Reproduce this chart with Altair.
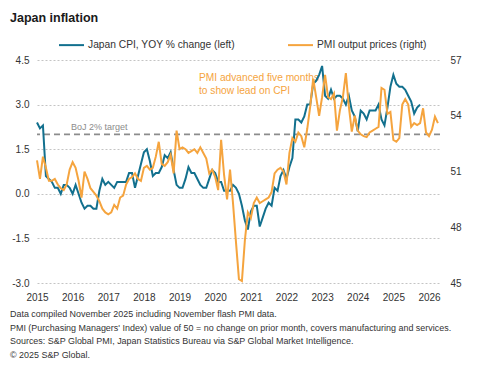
import altair as alt
import pandas as pd

FONT = "Liberation Sans"
BLUE = "#12708e"
ORANGE = "#f5a43e"
CPI_NAME = "Japan CPI, YOY % change (left)"
PMI_NAME = "PMI output prices (right)"

# Japan CPI, YoY %, monthly from Jan 2015 to Oct 2025
cpi_start = "2015-01"
cpi_values = [
    2.4, 2.2, 2.3, 0.6, 0.5, 0.4, 0.2, 0.2, 0.0, 0.3, 0.3, 0.2,
    0.0, 0.3, 0.0, -0.3, -0.5, -0.4, -0.4, -0.5, -0.5, 0.1, 0.5, 0.3,
    0.4, 0.3, 0.2, 0.4, 0.4, 0.4, 0.4, 0.7, 0.7, 0.2, 0.6, 1.0,
    1.4, 1.5, 1.1, 0.6, 0.7, 0.7, 0.9, 1.3, 1.2, 1.4, 0.8, 0.3,
    0.2, 0.2, 0.5, 0.9, 0.7, 0.7, 0.5, 0.3, 0.2, 0.2, 0.5, 0.8,
    0.7, 0.4, 0.4, 0.1, 0.1, 0.1, 0.3, 0.2, 0.0, -0.4, -0.9, -1.2,
    -0.6, -0.4, -0.4, -1.1, -0.8, -0.5, -0.3, -0.4, 0.2, 0.1, 0.6, 0.8,
    0.5, 0.9, 1.2, 2.5, 2.5, 2.4, 2.6, 3.0, 3.0, 3.7, 3.8, 4.0,
    4.3, 3.3, 3.2, 3.5, 3.2, 3.3, 3.3, 3.2, 3.0, 3.3, 2.8, 2.6,
    2.1, 2.8, 2.7, 2.5, 2.8, 2.8, 2.8, 3.0, 2.5, 2.3, 2.9, 3.6,
    4.0, 3.7, 3.6, 3.6, 3.5, 3.3, 3.1, 2.7, 2.9, 3.0,
]

# PMI output prices index, monthly from Aug 2014 to Nov 2025 (plotted 5 months ahead)
pmi_start = "2014-08"
pmi_lead_months = 5
pmi_values = [
    51.6, 50.6, 51.8, 51.2, 50.5, 50.5, 50.6, 50.3, 50.1, 50.0, 50.3, 51.1,
    51.5, 51.2, 50.5, 49.6, 51.0, 50.6, 50.1, 49.9, 49.7, 49.4, 49.0, 48.8,
    48.7, 48.8, 49.2, 49.0, 49.6, 49.7, 50.3, 50.6, 50.7, 50.9, 50.6, 50.5,
    51.2, 51.3, 51.1, 51.2, 51.8, 52.6, 51.4, 51.3, 51.5, 51.9, 50.9, 53.2,
    52.2, 52.3, 52.2, 52.0, 52.1, 52.2, 52.0, 52.3, 52.0, 51.7, 50.9, 51.1,
    50.7, 50.0, 52.7, 50.8, 49.5, 51.1, 49.3, 47.2, 45.2, 45.1, 47.3, 48.8,
    48.5, 49.3, 49.6, 49.3, 49.4, 49.5, 49.6, 49.9, 50.9, 51.1, 51.2, 51.0,
    50.3, 52.0, 52.8, 52.6, 53.1, 52.9, 52.3, 53.3, 54.5, 56.0, 55.0, 54.0,
    55.0, 56.2, 55.0, 54.9, 55.2, 53.2, 54.3, 55.0, 56.3, 54.5, 53.15, 54.0,
    53.2, 53.0, 52.9, 52.85, 53.1, 53.2, 53.3, 53.4, 55.5, 55.4, 54.1, 54.2,
    52.7, 52.6, 52.8, 54.6, 54.9, 54.6, 53.4, 53.6, 53.5, 53.6, 54.4, 53.1,
    52.9, 53.25, 53.95, 53.6,
]

year_labels = [str(y) for y in range(2015, 2027)]
cpi_ticks = [-3.0, -1.5, 0.0, 1.5, 3.0, 4.5]
pmi_ticks = [45, 48, 51, 54, 57]
boj_target = 2.0

footer_lines = [
    "Data compiled November 2025 including November flash PMI data.",
    "PMI (Purchasing Managers' Index) value of 50 = no change on prior month, covers manufacturing and services.",
    "Sources: S&P Global PMI, Japan Statistics Bureau via S&P Global Market Intelligence.",
    "\u00a9 2025 S&P Global.",
]


def month_index(start, n, shift=0):
    y, m = map(int, start.split("-"))
    base = (y - 2015) * 12 + (m - 1) + shift
    return [base + k for k in range(n)]


cpi_df = pd.DataFrame({
    "month": month_index(cpi_start, len(cpi_values)),
    "value": cpi_values,
    "series": CPI_NAME,
})
pmi_df = pd.DataFrame({
    "month": month_index(pmi_start, len(pmi_values), pmi_lead_months),
    "value": pmi_values,
    "series": PMI_NAME,
})

W, H = 403, 223
PAD_L, PAD_T = 37, 60

x_enc = alt.X(
    "month:Q",
    scale=alt.Scale(domain=[0, 135.7], nice=False, zero=False),
    axis=alt.Axis(
        values=[12 * k for k in range(len(year_labels))],
        labelExpr="'' + (2015 + datum.value / 12)",
        title=None, grid=False, domain=False, ticks=False, labelFlush=False,
        labelFont=FONT, labelFontSize=10, labelColor="#333333", labelPadding=9,
    ),
)

color_enc = alt.Color(
    "series:N",
    scale=alt.Scale(domain=[CPI_NAME, PMI_NAME], range=[BLUE, ORANGE]),
    legend=alt.Legend(
        orient="none", legendX=21, legendY=-28.5, direction="horizontal",
        title=None, symbolType="stroke", symbolSize=625, symbolStrokeWidth=2,
        labelFont=FONT, labelFontSize=10.25, labelColor="#333333",
        labelOffset=3, columnPadding=49, padding=0,
    ),
)

cpi_line = alt.Chart(cpi_df).mark_line(strokeWidth=2).encode(
    x=x_enc,
    y=alt.Y(
        "value:Q",
        scale=alt.Scale(domain=[-3, 4.5], nice=False, zero=False),
        axis=alt.Axis(
            values=cpi_ticks,
            labelExpr="replace(format(datum.value, '.1f'), '\u2212', '-')",
            title=None, grid=True, gridDash=[2, 2], gridColor="#c4c4c4", gridWidth=1,
            domain=False, ticks=False, labelFont=FONT, labelFontSize=10,
            labelColor="#333333", labelPadding=8,
        ),
    ),
    color=color_enc,
)

boj_rule = alt.Chart(pd.DataFrame({"v": [boj_target]})).mark_rule(
    color="#8c8c8c", strokeWidth=1.6, strokeDash=[6, 4]
).encode(y="v:Q")

boj_text = alt.Chart(pd.DataFrame({"t": ["BoJ 2% target"]})).mark_text(
    align="left", baseline="middle", font=FONT, fontSize=9, color="#8c8c8c"
).encode(text="t:N", x=alt.value(34), y=alt.value(67))

note1 = alt.Chart(pd.DataFrame({"t": ["PMI advanced five months"]})).mark_text(
    align="left", baseline="middle", font=FONT, fontSize=10.2, color=ORANGE
).encode(text="t:N", x=alt.value(162), y=alt.value(18))
note2 = alt.Chart(pd.DataFrame({"t": ["to show lead on CPI"]})).mark_text(
    align="left", baseline="middle", font=FONT, fontSize=10.2, color=ORANGE
).encode(text="t:N", x=alt.value(162), y=alt.value(31))

left = alt.layer(boj_rule, note1, note2, boj_text, cpi_line)

pmi_line = alt.Chart(pmi_df).mark_line(strokeWidth=2).encode(
    x=x_enc,
    y=alt.Y(
        "value:Q",
        scale=alt.Scale(domain=[45, 57], nice=False, zero=False),
        axis=alt.Axis(
            orient="right", values=pmi_ticks, title=None, grid=False,
            domain=False, ticks=False, labelFont=FONT, labelFontSize=10,
            labelColor="#333333", labelPadding=10,
        ),
    ),
    color=color_enc,
)

title = alt.Chart(pd.DataFrame({"t": ["Japan inflation"]})).mark_text(
    align="left", baseline="alphabetic", font=FONT, fontSize=12.5,
    fontWeight="bold", color="#1a1a1a"
).encode(text="t:N", x=alt.value(10 - PAD_L), y=alt.value(22 - PAD_T))

footers = []
for k, line in enumerate(footer_lines):
    footers.append(
        alt.Chart(pd.DataFrame({"t": [line]})).mark_text(
            align="left", baseline="middle", font=FONT, fontSize=8.95, color="#333333"
        ).encode(text="t:N", x=alt.value(10 - PAD_L), y=alt.value(314 - PAD_T + 13.5 * k))
    )

chart = (
    alt.layer(left, pmi_line, title, *footers)
    .resolve_scale(y="independent")
    .properties(
        width=W, height=H,
        autosize=alt.AutoSizeParams(type="none"),
        padding={"left": PAD_L, "top": PAD_T, "right": 477 - PAD_L - W, "bottom": 377 - PAD_T - H},
        background="white",
    )
    .configure_view(stroke=None)
)

chart.save("out.html", embed_options={"renderer": "svg", "actions": False})
